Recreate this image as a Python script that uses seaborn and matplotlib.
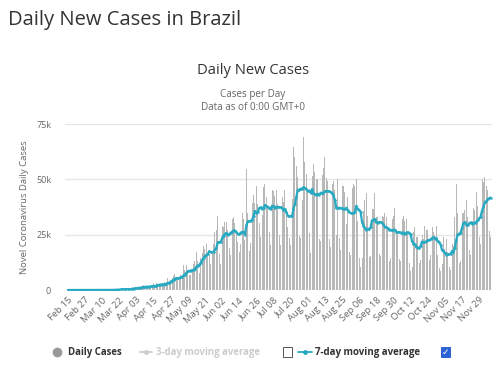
import numpy as np
import pandas as pd
import matplotlib
matplotlib.use("Agg")
import matplotlib.pyplot as plt
import seaborn as sns
from matplotlib.lines import Line2D
from matplotlib.patches import Rectangle

# ---------------- data (daily new cases, Brazil, from Feb 15 2020) ----------------
start_date = "2020-02-15"
daily_cases = [
    0, 0, 0, 0, 0, 0, 0,
    0, 0, 0, 0, 1, 0, 0,
    1, 0, 0, 0, 0, 1, 5,
    6, 7, 5, 9, 18, 25, 21,
    23, 79, 34, 57, 137, 193, 283,
    224, 418, 345, 310, 232, 482, 502,
    487, 352, 323, 1138, 1119, 1074, 1146,
    1222, 852, 926, 1661, 2210, 1930, 1781,
    1089, 1261, 1442, 1832, 3058, 2105, 3257,
    2917, 1996, 1927, 2498, 2678, 3735, 3503,
    5514, 3379, 4613, 5385, 6276, 7218, 5015,
    4898, 4726, 6794, 6835, 11156, 9162, 11121,
    9167, 6638, 6895, 8620, 11923, 13028, 17126,
    13220, 7569, 14288, 16517, 19951, 18508, 20803,
    16508, 15813, 11687, 16324, 20599, 26417, 26928,
    33274, 16409, 11598, 28936, 28633, 30925, 30830,
    27075, 18912, 15654, 32091, 32913, 30412, 25982,
    21704, 17110, 20647, 34918, 32188, 22765, 54771,
    34666, 17459, 21432, 39436, 42725, 39483, 46860,
    38693, 30476, 24052, 33846, 46712, 48105, 42223,
    37923, 26051, 20229, 45305, 44571, 42619, 45048,
    39023, 24831, 20286, 41857, 39924, 45403, 34177,
    28532, 23529, 20257, 41008, 64500, 59961, 55891,
    51147, 24578, 23284, 40816, 69074, 57837, 52383,
    45392, 25800, 16641, 51603, 57152, 53139, 50230,
    49970, 23010, 22048, 52160, 55155, 60091, 50644,
    49274, 23101, 19373, 47784, 49298, 45323, 25000,
    50032, 23421, 18000, 47134, 47161, 44235, 30000,
    42000, 17000, 16000, 46000, 48000, 46934, 50163,
    31199, 14279, 10273, 14521, 35816, 40557, 43718,
    33523, 14768, 15155, 36653, 36820, 43769, 33000,
    33057, 16389, 15454, 33536, 32817, 35000, 33000,
    28378, 13155, 14318, 32058, 33413, 36969, 26000,
    26310, 14000, 13000, 32000, 33348, 31000, 32000,
    26749, 12342, 8429, 10220, 26037, 28523, 24000,
    24062, 12345, 13493, 24818, 23227, 29016, 27000,
    26979, 13427, 15726, 28629, 26106, 25000, 29000,
    16000, 10100, 8501, 11843, 23976, 18615, 23000,
    17000, 10500, 9000, 21000, 20000, 33000, 47700,
    35000, 12000, 13000, 35000, 35000, 36000, 40500,
    33000, 18000, 16000, 31000, 37000, 36000, 44500,
    38000, 24000, 21000, 50000, 49000, 51000, 47000,
    45000, 26500, 24000,
]
x_tick_labels = ["Feb 15", "Feb 27", "Mar 10", "Mar 22", "Apr 03", "Apr 15", "Apr 27",
                 "May 09", "May 21", "Jun 02", "Jun 14", "Jun 26", "Jul 08", "Jul 20",
                 "Aug 01", "Aug 13", "Aug 25", "Sep 06", "Sep 18", "Sep 30", "Oct 12",
                 "Oct 24", "Nov 05", "Nov 17", "Nov 29"]
y_tick_values = [0, 25000, 50000, 75000]
y_tick_labels = ["0", "25k", "50k", "75k"]

# ---------------- build frame ----------------
dates = pd.date_range(start_date, periods=len(daily_cases))
df = pd.DataFrame({"day": np.arange(len(daily_cases)), "cases": daily_cases})
df["ma7"] = df["cases"].rolling(7, min_periods=1).mean()
date_labels = list(dates.strftime("%b %d"))
tick_pos = [date_labels.index(lbl) for lbl in x_tick_labels]

sns.set_theme(style="white")
plt.rcParams["font.family"] = ["Open Sans", "DejaVu Sans"]

W, H = 500, 389
fig = plt.figure(figsize=(W / 100, H / 100), dpi=100)
fig.patch.set_facecolor("white")
ax = fig.add_axes([65 / W, 99 / H, 427 / W, 166 / H])

for v in y_tick_values:
    ax.axhline(v, color="#e6e6e6", lw=1, zorder=1)

sns.barplot(data=df, x="day", y="cases", native_scale=True, color="#b8b8b8",
            saturation=1, width=0.7, errorbar=None, linewidth=0, edgecolor="none",
            ax=ax, zorder=2)
sns.lineplot(data=df, x="day", y="ma7", color="#26a9c2", lw=1.6, marker="o",
             markersize=1.8, markeredgewidth=0, ax=ax, zorder=3)

ax.set_xlim(-2, len(daily_cases))
ax.set_ylim(0, 75000)
ax.set_yticks(y_tick_values)
ax.set_yticklabels(y_tick_labels)
ax.set_xticks(tick_pos)
ax.set_xticklabels(x_tick_labels, rotation=45, ha="right", rotation_mode="anchor")
ax.tick_params(axis="x", length=0, pad=4, labelsize=6.8, labelcolor="#666666")
ax.tick_params(axis="y", length=0, pad=10, labelsize=6.5, labelcolor="#666666")
for s in ax.spines.values():
    s.set_visible(False)
ax.grid(False)
ax.set_xlabel("")
ax.set_ylabel("Novel Coronavirus Daily Cases", fontsize=6.8, color="#666666", labelpad=5)

# ---------------- titles ----------------
fig.text(8 / W, 1 - 20 / H, "Daily New Cases in Brazil", fontsize=14.5, color="#333333",
         ha="left", va="center")
fig.text(253 / W, 1 - 71 / H, "Daily New Cases", fontsize=10.6, color="#333333",
         ha="center", va="center")
fig.text(253 / W, 1 - 95 / H, "Cases per Day", fontsize=7.1, color="#666666",
         ha="center", va="center")
fig.text(253 / W, 1 - 107 / H, "Data as of 0:00 GMT+0", fontsize=7.1, color="#666666",
         ha="center", va="center")

# ---------------- legend ----------------
ly = 1 - 352 / H
fig.add_artist(Line2D([57 / W], [ly], marker="o", markersize=7, color="#999999",
                      markeredgewidth=0, transform=fig.transFigure))
fig.text(68 / W, ly, "Daily Cases", fontsize=6.9, fontweight="bold", color="#333333",
         ha="left", va="center")
fig.add_artist(Line2D([140 / W, 152 / W], [ly, ly], color="#cccccc", lw=1.3,
                      transform=fig.transFigure))
fig.add_artist(Line2D([146 / W], [ly], color="#cccccc", marker="o", markersize=3.5,
                      markeredgewidth=0, transform=fig.transFigure))
fig.text(156 / W, ly, "3-day moving average", fontsize=6.9, fontweight="bold",
         color="#cccccc", ha="left", va="center")
fig.add_artist(Rectangle((283 / W, ly - 5 / H), 9 / W, 10 / H, fill=False,
                         edgecolor="#555555", lw=0.7, transform=fig.transFigure))
fig.add_artist(Line2D([298 / W, 312 / W], [ly, ly], color="#26a9c2", lw=1.3,
                      transform=fig.transFigure))
fig.add_artist(Line2D([305 / W], [ly], color="#26a9c2", marker="o", markersize=3.5,
                      markeredgewidth=0, transform=fig.transFigure))
fig.text(315 / W, ly, "7-day moving average", fontsize=7.0, fontweight="bold",
         color="#333333", ha="left", va="center")
fig.add_artist(Rectangle((441 / W, ly - 5 / H), 9 / W, 10 / H, facecolor="#2a62d6",
                         edgecolor="#2a62d6", lw=0.7, transform=fig.transFigure))
fig.text(445.5 / W, ly, "\u2713", fontsize=6.5, color="white", ha="center", va="center",
         family=["DejaVu Sans"], fontweight="bold")

fig.savefig("out.png", dpi=100, facecolor="white")
